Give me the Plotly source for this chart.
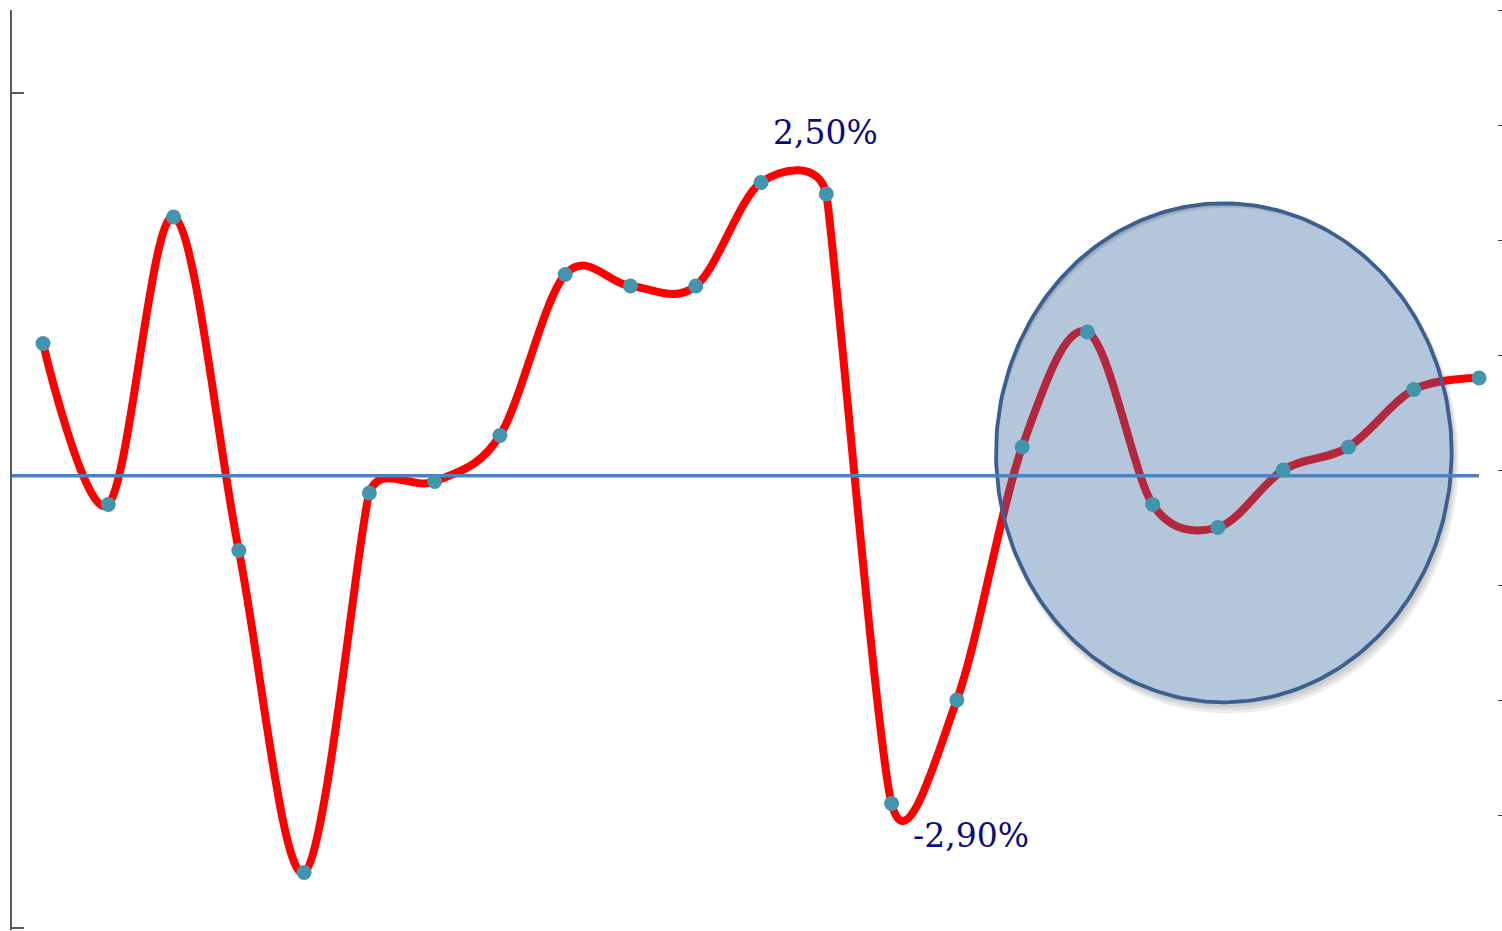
import numpy as np
import plotly.graph_objects as go

# Monthly change, in percent
periods = list(range(1, 24))
values = [1.1, -0.3, 2.2, -0.7, -3.5, -0.2, -0.1, 0.3, 1.7, 1.6, 1.6, 2.5,
          2.4, -2.9, -2.0, 0.2, 1.2, -0.3, -0.5, 0.0, 0.2, 0.7, 0.8]

# Tick positions (labels are hidden)
value_ticks = [-3, -2, -1, 0, 1, 2, 3, 4]
left_ticks = [0, 1]

# Labelled points: (period, text)
callouts = [(12, "2,50%"), (14, "-2,90%")]

X_RANGE = [0.525, 23.275]
Y_RANGE = [-4, 4]
BASELINE = -0.05

# Highlight ellipse around the last months (data units)
ELL_CX, ELL_CY, ELL_RX, ELL_RY = 19.09, 0.15, 3.49, 2.17

W, H = 1502, 931
M = dict(l=12, r=5, t=10, b=1)
px_x = (W - M["l"] - M["r"]) / (X_RANGE[1] - X_RANGE[0])
px_y = (H - M["t"] - M["b"]) / (Y_RANGE[1] - Y_RANGE[0])

theta = np.linspace(0, 2 * np.pi, 241)


def ellipse(cx, cy, rx, ry, reverse=False):
    t = theta[::-1] if reverse else theta
    return cx + rx * np.cos(t), cy + ry * np.sin(t)


def path_of(xs, ys):
    pts = " L ".join(f"{a:.4f},{b:.4f}" for a, b in zip(xs, ys))
    return f"M {pts} Z"


def smooth_path(xs, ys):
    """Office-style smoothed line: cubic Bezier segments whose control arms
    are (next - prev) / 6, capped at half of the shorter neighbouring
    segment (lengths measured on screen)."""
    xs = np.asarray(xs, float)
    ys = np.asarray(ys, float)
    n = len(xs)
    arms = []
    for i in range(n):
        p = max(i - 1, 0)
        q = min(i + 1, n - 1)
        vx, vy = xs[q] - xs[p], ys[q] - ys[p]
        d02 = np.hypot(vx * px_x, vy * px_y)
        d01 = np.hypot((xs[i] - xs[p]) * px_x, (ys[i] - ys[p]) * px_y)
        d12 = np.hypot((xs[q] - xs[i]) * px_x, (ys[q] - ys[i]) * px_y)
        f = 1 / 6
        if d02 == 0:
            f = 0
        elif d02 / 6 > min(d01, d12) / 2:
            f = min(d01, d12) / (2 * d02)
        arms.append((f * vx, f * vy))
    parts = [f"M {xs[0]:.5f},{ys[0]:.5f}"]
    for i in range(n - 1):
        c1 = (xs[i] + arms[i][0], ys[i] + arms[i][1])
        c2 = (xs[i + 1] - arms[i + 1][0], ys[i + 1] - arms[i + 1][1])
        parts.append(f"C {c1[0]:.5f},{c1[1]:.5f} {c2[0]:.5f},{c2[1]:.5f} "
                     f"{xs[i + 1]:.5f},{ys[i + 1]:.5f}")
    return " ".join(parts)


fig = go.Figure()

# translucent highlight ellipse (drawn over the red line)
ex, ey = ellipse(ELL_CX, ELL_CY, ELL_RX, ELL_RY)
fig.add_trace(go.Scatter(
    x=ex, y=ey, mode="lines", fill="toself",
    fillcolor="rgba(58,105,163,0.38)",
    line=dict(color="#3b5f8e", width=3.8),
    hoverinfo="skip", showlegend=False, yaxis="y",
))

# horizontal baseline
fig.add_trace(go.Scatter(
    x=[X_RANGE[0], periods[-1]], y=[BASELINE, BASELINE], mode="lines",
    line=dict(color="#4f81bd", width=3.5),
    hoverinfo="skip", showlegend=False, yaxis="y",
))

# data point markers
fig.add_trace(go.Scatter(
    x=periods, y=values, mode="markers",
    marker=dict(color="#4395ad", size=15),
    showlegend=False, yaxis="y",
))

shapes = []

# soft drop shadow under the ellipse (crescent rings, evenodd fill)
inner_x, inner_y = ellipse(ELL_CX, ELL_CY, ELL_RX, ELL_RY, reverse=True)
for dx, dy, grow in [(1, 2, 0), (2, 4, 1), (3, 6, 2), (4, 8, 3)]:
    ox, oy = ellipse(ELL_CX + dx / px_x, ELL_CY - dy / px_y,
                     ELL_RX + grow / px_x, ELL_RY + grow / px_y)
    shapes.append(dict(
        type="path", xref="x", yref="y", layer="below",
        path=path_of(ox, oy) + " " + path_of(inner_x, inner_y),
        fillcolor="rgba(0,0,0,0.07)", line=dict(width=0),
        fillrule="evenodd",
    ))

# smoothed red series line
shapes.append(dict(
    type="path", xref="x", yref="y", layer="below",
    path=smooth_path(periods, values),
    fillcolor="rgba(0,0,0,0)",
    line=dict(color="#ff0000", width=8),
))

annotations = []
offsets = {12: (64, 50), 14: (79, -32)}
for p, text in callouts:
    dx, dy = offsets[p]
    annotations.append(dict(
        x=p, y=values[periods.index(p)], xref="x", yref="y",
        text=text, showarrow=False, xshift=dx, yshift=dy,
        font=dict(family="DejaVu Serif", size=33, color="#0a0a82"),
    ))

fig.update_layout(
    width=W, height=H, margin=M,
    paper_bgcolor="white", plot_bgcolor="white",
    shapes=shapes, annotations=annotations,
    xaxis=dict(range=X_RANGE, showgrid=False, zeroline=False,
               showline=False, showticklabels=False, ticks=""),
    yaxis=dict(range=Y_RANGE, side="right", showgrid=False, zeroline=False,
               showline=False, showticklabels=False,
               tickmode="array", tickvals=value_ticks,
               ticks="outside", ticklen=5, tickwidth=1, tickcolor="#404040"),
    yaxis2=dict(range=[-0.003, 1.1], overlaying="y", side="left",
                showgrid=False, zeroline=False, showticklabels=False,
                showline=True, linecolor="#5a5a5a", linewidth=2,
                tickmode="array", tickvals=left_ticks,
                ticks="inside", ticklen=12, tickwidth=1.5, tickcolor="#5a5a5a"),
)

# invisible trace so the left axis is drawn
fig.add_trace(go.Scatter(x=[None], y=[None], yaxis="y2", showlegend=False,
                         hoverinfo="skip"))

fig.write_html("out.html")
